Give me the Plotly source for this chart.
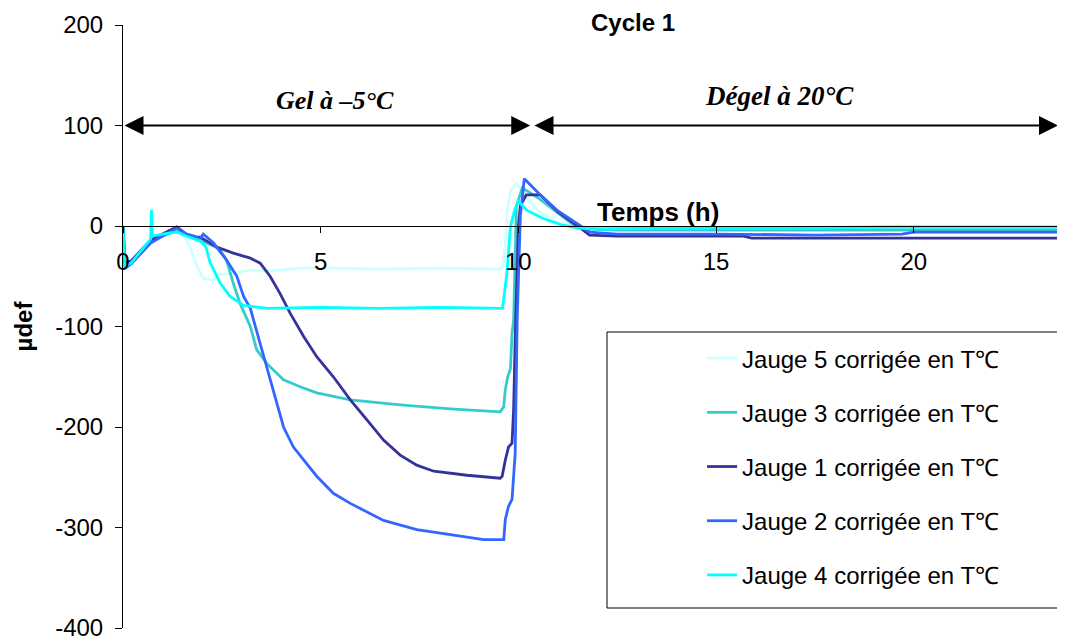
import plotly.graph_objects as go

# ---------------- data ----------------
series_names = ["Jauge 5 corrigée en T℃", "Jauge 3 corrigée en T℃", "Jauge 1 corrigée en T℃",
                "Jauge 2 corrigée en T℃", "Jauge 4 corrigée en T℃"]
series_colors = ["#ccffff", "#33cccc", "#333399", "#3366ff", "#00ffff"]

t5 = [0, 0.05, 0.2, 0.45, 0.7, 1.0, 1.3, 1.52, 1.7, 1.87, 2.03, 2.28, 2.46, 2.8, 3.22, 3.64, 4.48, 5.32,
      6.5, 8.0, 9.54, 9.62, 9.67, 9.72, 9.8, 9.96, 10.2, 10.5, 11.0, 11.5, 12.5, 15, 18, 21, 23.7]
y5 = [0, -38, -36, -24, -14, -8, -5, -9, -21, -40, -52, -54, -48, -47, -44, -45, -42, -42,
      -43, -42, -43, -40, -17, 16, 35, 42, 30, 15, 3, -1, -2, -2, -1, -1, -1]

t3 = [0, 0.05, 0.2, 0.45, 0.7, 1.0, 1.36, 1.8, 2.0, 2.3, 2.46, 2.62, 2.79, 2.96, 3.22, 3.38, 3.64, 4.06,
      4.48, 4.9, 5.75, 7.01, 8.28, 9.54, 9.63, 9.67, 9.73, 9.8, 9.84, 9.88, 9.95, 10.1, 10.5, 11.0, 11.4,
      11.8, 12.5, 16, 20, 23.7]
y3 = [0, -39, -36, -26, -16, -10, -5, -12, -15, -20, -24, -34, -57, -77, -100, -123, -137, -153,
      -160, -166, -173, -178, -182, -185, -180, -163, -150, -142, -107, -94, 20, 38, 28, 13, 1,
      -3, -4, -4, -4, -4]

t1 = [0, 0.05, 0.2, 0.45, 0.7, 1.0, 1.36, 1.6, 1.8, 1.95, 2.37, 2.79, 3.22, 3.47, 3.72, 3.97, 4.23, 4.57,
      4.9, 5.32, 5.75, 6.17, 6.59, 7.01, 7.43, 7.86, 8.7, 9.54, 9.59, 9.67, 9.75, 9.84, 9.88, 9.92, 10.0,
      10.05, 10.2, 10.55, 11.0, 11.5, 11.8, 12.5, 15.7, 15.9, 23.7]
y1 = [0, -36, -35, -24, -14, -8, -1, -8, -11, -11, -21, -27, -32, -37, -50, -67, -87, -110,
      -130, -150, -173, -193, -213, -228, -238, -244, -248, -251, -249, -233, -220, -216, -183, -113, 0,
      20, 31, 31, 14, 0, -9, -10, -10, -12, -12]

t2 = [0, 0.05, 0.2, 0.45, 0.7, 1.0, 1.36, 1.6, 1.8, 1.95, 2.03, 2.29, 2.62, 2.88, 3.05, 3.22, 3.47, 3.64,
      3.81, 4.06, 4.31, 4.57, 4.9, 5.32, 5.75, 6.59, 7.43, 8.28, 9.12, 9.63, 9.67, 9.75, 9.84, 9.92, 9.97,
      10.05, 10.15, 10.5, 11.0, 11.5, 11.8, 12.5, 15, 17.5, 19.7, 20.0, 23.7]
y2 = [0, -42, -38, -28, -17, -10, -2, -8, -10, -13, -8, -17, -34, -50, -70, -82, -117, -140,
      -166, -200, -220, -233, -249, -266, -276, -293, -302, -307, -312, -312, -292, -279, -272, -226, -93,
      10, 47, 33, 15, 2, -6, -8, -8, -9, -8, -6, -6]

t4 = [0, 0.05, 0.2, 0.45, 0.70, 0.72, 0.75, 1.0, 1.36, 1.6, 1.95, 2.1, 2.2, 2.46, 2.71, 3.05, 3.3, 3.64,
      5.0, 6.5, 8.0, 9.6, 9.67, 9.71, 9.8, 9.9, 10.0, 10.2, 10.6, 11.1, 11.5, 12.0, 14, 17, 19.5, 23.7]
y4 = [0, -40, -37, -25, -13, 16, -10, -8, -6, -10, -15, -21, -36, -57, -70, -79, -80, -82,
      -81, -82, -81, -82, -60, -47, -1, 15, 25, 16, 8, 1, -2, -3, -2, -2, -1, -1]

x_ticks = [0, 5, 10, 15, 20]
x_tick_labels = ["0", "5", "10", "15", "20"]
y_ticks = [-400, -300, -200, -100, 0, 100, 200]
y_tick_labels = ["-400", "-300", "-200", "-100", "0", "100", "200"]

series_t = [t5, t3, t1, t2, t4]
series_y = [y5, y3, y1, y2, y4]

# ---------------- figure ----------------
SANS = "Liberation Sans, Arial, sans-serif"
SERIF = "Liberation Serif, Times New Roman, serif"

fig = go.Figure()
for i, (name, col, tt, yy) in enumerate(zip(series_names, series_colors, series_t, series_y)):
    fig.add_trace(go.Scatter(x=tt, y=yy, mode="lines", name=name, legendgroup=f"g{i}",
                             line=dict(color=col, width=2.8)))

fig.update_layout(
    width=1065, height=641,
    margin=dict(l=115, r=13, t=17, b=21, autoexpand=False),
    paper_bgcolor="white", plot_bgcolor="white",
    font=dict(family=SANS, size=24, color="black"),
    showlegend=True,
    legend=dict(x=0.618, y=0.4842, xanchor="left", yanchor="top", bgcolor="rgba(0,0,0,0)",
                borderwidth=0, font=dict(family=SANS, size=24, color="black"),
                tracegroupgap=20, traceorder="grouped", itemwidth=30),
    title=dict(text="<b>Cycle 1</b>", x=0.5443, xref="paper", xanchor="center",
               y=1 - 15 / 641, yref="container", yanchor="middle",
               font=dict(family=SANS, size=24, color="black")),
    xaxis=dict(range=[0, 23.7], anchor="free", position=400 / 600, showline=True, linecolor="black",
               linewidth=1, ticks="outside", ticklen=6, tickcolor="black", tickvals=x_ticks,
               ticktext=x_tick_labels, showgrid=False, zeroline=False, ticklabelstandoff=8,
               automargin=False, tickfont=dict(family=SANS, size=24, color="black")),
    yaxis=dict(range=[-400, 200], tickvals=y_ticks, ticktext=y_tick_labels, showline=True,
               linecolor="black", linewidth=1, ticks="outside", ticklen=7, tickcolor="black",
               showgrid=False, zeroline=False, ticklabelstandoff=7, automargin=False,
               tickfont=dict(family=SANS, size=24, color="black"),
               title=dict(text="<b>µdef</b>", standoff=15,
                          font=dict(family=SANS, size=24, color="black"))),
)

# legend frame: open on the right, as it runs past the edge in the reference
bx0 = (599 - 115) / 937
bx1 = 1.03
by0 = 20 / 603
by1 = 296 / 603
fig.add_shape(type="path", xref="paper", yref="paper",
              path=f"M {bx1},{by1} L {bx0},{by1} L {bx0},{by0} L {bx1},{by0}",
              line=dict(color="black", width=1), layer="below")

# phase arrows
arrow_style = dict(showarrow=True, text="", arrowhead=2, arrowside="end+start", arrowwidth=2,
                   arrowsize=1.9, arrowcolor="black", xref="x", yref="y", axref="x", ayref="y")
fig.add_annotation(x=10.3, y=100, ax=0.0, ay=100, **arrow_style)
fig.add_annotation(x=23.65, y=100, ax=10.37, ay=100, **arrow_style)

fig.add_annotation(x=5.36, y=125, xref="x", yref="y", text="<b><i>Gel à –5°C</i></b>", showarrow=False,
                   font=dict(family=SERIF, size=26, color="black"))
fig.add_annotation(x=16.6, y=129, xref="x", yref="y", text="<b><i>Dégel à 20°C</i></b>", showarrow=False,
                   font=dict(family=SERIF, size=27, color="black"))
fig.add_annotation(x=13.53, y=14, xref="x", yref="y", text="<b>Temps (h)</b>", showarrow=False,
                   font=dict(family=SANS, size=26, color="black"))

fig.write_html("out.html")
